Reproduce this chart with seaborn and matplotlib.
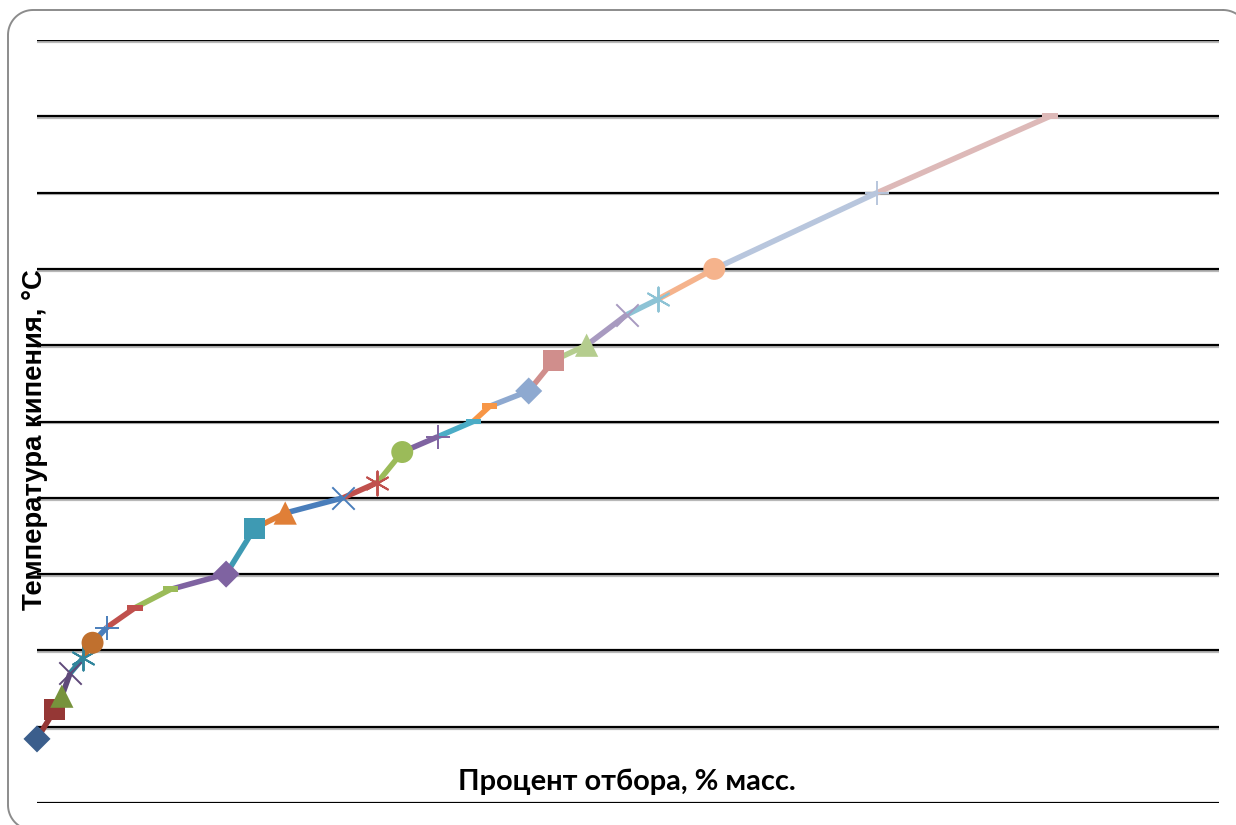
import matplotlib
matplotlib.use("Agg")
import matplotlib.pyplot as plt
import seaborn as sns
import numpy as np
import pandas as pd
from matplotlib.path import Path

# Data: distillation curve (percent distilled, boiling temperature)
percent = [0.0, 1.5, 2.1, 2.8, 3.9, 4.7, 5.9, 8.3, 11.3, 16.0, 18.4, 21.0, 25.9,
           28.8, 30.9, 33.9, 36.9, 38.3, 41.6, 43.7, 46.5, 49.9, 52.5, 57.3, 71.1, 85.7]
temperature = [42, 61, 70, 85, 95, 105, 115, 128, 140, 150, 180, 190, 200,
               210, 230, 240, 250, 260, 270, 290, 300, 320, 330, 350, 400, 450]
point_colors = ["#3B5E8C", "#953735", "#77933C", "#5F497A", "#31859C", "#C0702E",
                "#4A7EBB", "#C0504D", "#9BBB59", "#7F63A1", "#3E9AB3", "#E07F37",
                "#4A7EBB", "#C0504D", "#9BBB59", "#7F63A1", "#4BACC6", "#F79646",
                "#8EA9D0", "#D08E8C", "#B5CD8E", "#A89AC0", "#8DC3D5", "#F5B38C",
                "#B8C6DD", "#DDB9B8"]
marker_kinds = ["diamond", "square", "triangle", "x", "star", "circle", "plus", "dash", "dash"] * 3
x_label = "Процент отбора, % масс."
y_label = "Температура кипения, °C"
y_ticks = list(range(0, 501, 50))

sns.set_theme(style="white")
plt.rcParams['font.family'] = ['Lato', 'DejaVu Sans']

W, H = 1236, 825
fig = plt.figure(figsize=(W / 100, H / 100), dpi=100)

# rounded frame around the chart (pixel coordinates, y downward)
ov = fig.add_axes([0, 0, 1, 1], zorder=0)
ov.set_xlim(0, W)
ov.set_ylim(H, 0)
ov.axis("off")
left, top, right, bottom, r = 8, 10, 1248, 830, 25
corners = [((right - r, top + r), -90, 0), ((right - r, bottom - r), 0, 90),
           ((left + r, bottom - r), 90, 180), ((left + r, top + r), 180, 270)]
fx, fy = [], []
for (cx, cy), a0, a1 in corners:
    ang = np.radians(np.linspace(a0, a1, 20))
    fx.extend(cx + r * np.cos(ang))
    fy.extend(cy + r * np.sin(ang))
fx.append(fx[0])
fy.append(fy[0])
ov.plot(fx, fy, color="#8c8c8c", lw=1.4, clip_on=False)

ax = fig.add_axes([37/W, 1-803/H, (1219-37)/W, (803-40)/H], zorder=1)
ax.patch.set_alpha(0)
ax.set_xlim(0, 100)
ax.set_ylim(0, 500)
for s in ax.spines.values():
    s.set_visible(False)
ax.set_xticks([])
ax.set_yticks([])

# gridlines with subtle shadow
for yv in y_ticks:
    ax.axhline(yv - 1.2, color="#b8b8b8", lw=1.6, zorder=1)
    ax.axhline(yv, color="black", lw=1.6, zorder=1.1)

dash_path = Path([(-1, -0.38), (1, -0.38), (1, 0.38), (-1, 0.38), (-1, -0.38)],
                 [Path.MOVETO, Path.LINETO, Path.LINETO, Path.LINETO, Path.CLOSEPOLY])
marker_map = {
    "diamond": dict(marker="D", s=190, lw=0),
    "square": dict(marker="s", s=230, lw=0),
    "triangle": dict(marker="^", s=280, lw=0),
    "x": dict(marker="x", s=260, lw=1.4),
    "star": dict(marker=(6, 2, 0), s=300, lw=1.4),
    "circle": dict(marker="o", s=250, lw=0),
    "plus": dict(marker="+", s=300, lw=1.4),
    "dash": dict(marker=dash_path, s=120, lw=0),
}

for k in range(1, len(percent)):
    seg = pd.DataFrame({"x": [percent[k-1], percent[k]], "y": [temperature[k-1], temperature[k]]})
    sns.lineplot(data=seg, x="x", y="y", color=point_colors[k], lw=4.0, ax=ax,
                 sort=False, estimator=None, zorder=2 + k * 0.01, solid_capstyle="butt")

for k in range(len(percent)):
    spec = marker_map[marker_kinds[k]]
    sns.scatterplot(x=[percent[k]], y=[temperature[k]], marker=spec["marker"], s=spec["s"],
                    color=point_colors[k], linewidth=spec["lw"], ax=ax, zorder=3 + k * 0.01,
                    edgecolor=point_colors[k] if spec["lw"] > 0 else "none", clip_on=False)

ax.set_xlabel("")
ax.set_ylabel("")
tx = fig.text(627/W, 1-782/H, x_label, ha="center", va="center", fontsize=18,
              fontweight="bold", color="black", family=["Lato", "DejaVu Sans"], zorder=5)
ty = fig.text(35/W, 1-440/H, y_label, ha="center", va="center", rotation=90,
              fontsize=16, fontweight="bold", color="black",
              family=["Liberation Sans", "DejaVu Sans"], zorder=5)

# fit label sizes to the reference extents
renderer = fig.canvas.get_renderer()
for t, target, dim in [(tx, 339, "w"), (ty, 341, "h")]:
    for _ in range(3):
        bb = t.get_window_extent(renderer)
        cur = bb.width if dim == "w" else bb.height
        t.set_fontsize(t.get_fontsize() * target / cur)

fig.savefig("out.png", dpi=100)
